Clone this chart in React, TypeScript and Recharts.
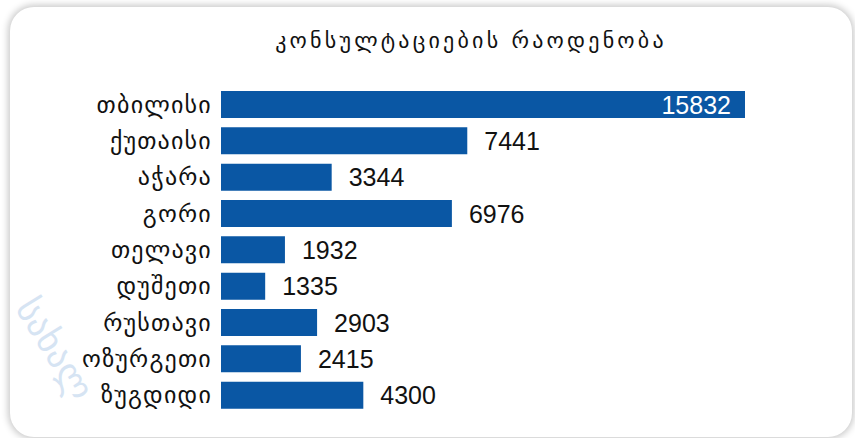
import React from "react";
import { BarChart, Bar, XAxis, YAxis, LabelList } from "recharts";

const regions = ["თბილისი", "ქუთაისი", "აჭარა", "გორი", "თელავი", "დუშეთი", "რუსთავი", "ოზურგეთი", "ზუგდიდი"];
const consultations = [15832, 7441, 3344, 6976, 1932, 1335, 2903, 2415, 4300];
const title = "კონსულტაციების რაოდენობა";
const watermark = "სახალ";

const data = regions.map((name, i) => ({ name, value: consultations[i] }));

const ValueLabel = (props: any) => {
  const { x, y, width, height, value, index } = props;
  const inside = index === 0;
  const tx = inside ? x + width - 14 : x + width + 17;
  return (
    <text
      x={tx}
      y={y + height / 2}
      dy="0.36em"
      textAnchor={inside ? "end" : "start"}
      fill={inside ? "#ffffff" : "#111111"}
      fontFamily="'Liberation Sans', Arial, sans-serif"
      fontSize={25}
    >
      {value}
    </text>
  );
};

export default function App() {
  return (
    <div style={{ position: "fixed", left: 0, top: 0, width: 855, height: 438, background: "#ffffff", overflow: "hidden" }}>
      <div
        style={{
          position: "absolute",
          left: 10,
          top: 7,
          width: 842,
          height: 430,
          borderRadius: 24,
          background: "#ffffff",
          boxShadow: "0 0 7px 2px rgba(0,0,0,0.22)",
        }}
      />
      <div
        style={{
          position: "absolute",
          left: 0,
          top: 28,
          width: 942,
          textAlign: "center",
          fontFamily: "'DejaVu Sans', sans-serif",
          fontSize: 22,
          letterSpacing: 3.2,
          color: "#111",
        }}
      >
        {title}
      </div>
      <div
        style={{
          position: "absolute",
          left: 40,
          top: 292,
          transform: "rotate(58deg)",
          transformOrigin: "left top",
          fontFamily: "'DejaVu Sans', sans-serif",
          fontSize: 36,
          lineHeight: "36px",
          color: "#d6e4f3",
          whiteSpace: "nowrap",
        }}
      >
        {watermark}
      </div>
      <div style={{ position: "absolute", left: 0, top: 0 }}>
        <BarChart
          width={855}
          height={438}
          data={data}
          layout="vertical"
          margin={{ top: 86, right: 110, bottom: 25, left: 0 }}
        >
          <XAxis type="number" domain={[0, 15832]} hide />
          <YAxis
            type="category"
            dataKey="name"
            width={221}
            axisLine={false}
            tickLine={false}
            tickMargin={3}
            tick={{ fill: "#111111", fontSize: 24, letterSpacing: 1.2, fontFamily: "'DejaVu Sans', sans-serif" }}
            interval={0}
          />
          <Bar dataKey="value" fill="#0a57a4" barSize={27} isAnimationActive={false}>
            <LabelList dataKey="value" content={ValueLabel} />
          </Bar>
        </BarChart>
      </div>
    </div>
  );
}
